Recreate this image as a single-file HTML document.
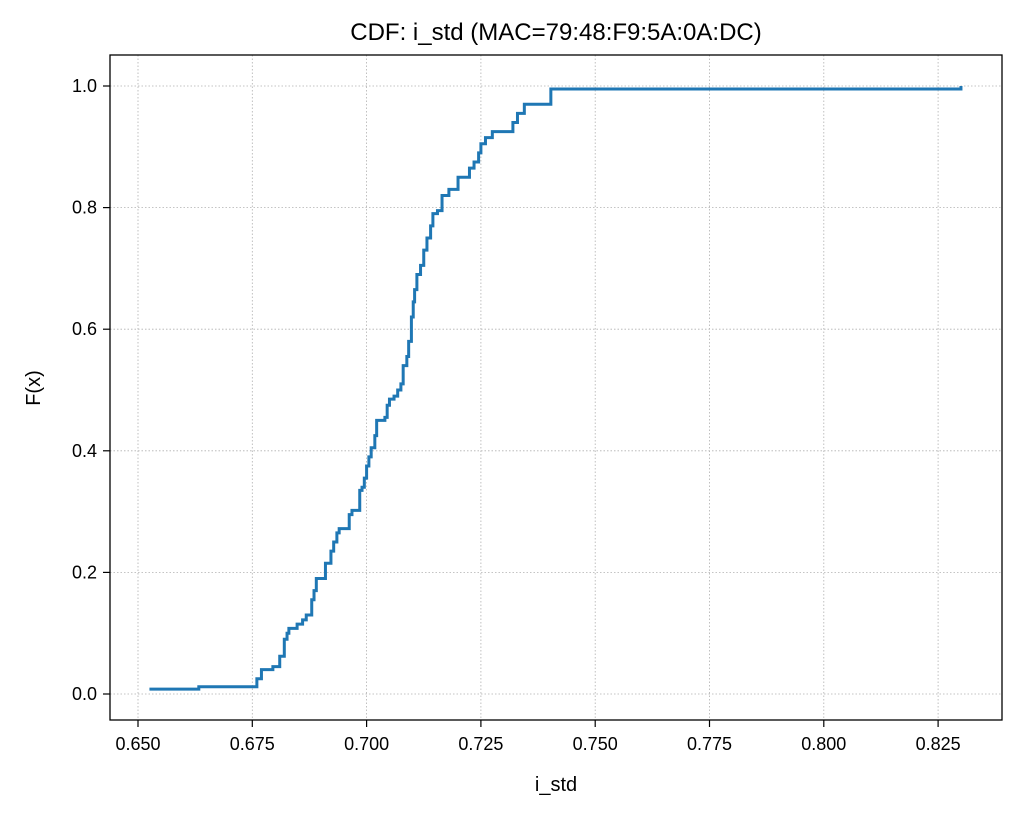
<!DOCTYPE html>
<html><head><meta charset="utf-8"><style>
body{margin:0;background:#fff;}
svg text{font-family:"Liberation Sans","DejaVu Sans",sans-serif;fill:#000;}
</style></head><body>
<svg id="chart" width="1020" height="815">
<rect x="0" y="0" width="1020" height="815" fill="#fff"/>
<g id="grid"></g><g id="ticks"></g>
<path id="line" fill="none" stroke="#1f77b4" stroke-width="3" stroke-linejoin="miter"/>
<rect x="110" y="55" width="892" height="665" fill="none" stroke="#000" stroke-width="1.3"/>
<text x="556" y="40" font-size="24" text-anchor="middle">CDF: i_std (MAC=79:48:F9:5A:0A:DC)</text>
<text x="556" y="791" font-size="20" text-anchor="middle">i_std</text>
<text x="40" y="388" font-size="20" text-anchor="middle" transform="rotate(-90 40 388)">F(x)</text>
</svg>
<script>
const xVals=[0.6525,0.6633,0.6760,0.6770,0.6795,0.6810,0.6820,0.6826,0.6830,0.6848,0.6860,0.6868,0.6880,0.6885,0.6890,0.6910,0.6922,0.6928,0.6935,0.6940,0.6962,0.6968,0.6985,0.6990,0.6995,0.7000,0.7005,0.7010,0.7018,0.7022,0.7040,0.7045,0.7050,0.7060,0.7068,0.7075,0.7080,0.7088,0.7092,0.7098,0.7102,0.7105,0.7110,0.7118,0.7125,0.7132,0.7140,0.7145,0.7155,0.7165,0.7180,0.7200,0.7225,0.7235,0.7245,0.7250,0.7260,0.7275,0.7320,0.7330,0.7345,0.7403,0.8300];
const fVals=[0.008,0.012,0.025,0.040,0.045,0.062,0.090,0.100,0.108,0.115,0.122,0.130,0.155,0.170,0.190,0.215,0.235,0.250,0.265,0.272,0.295,0.302,0.335,0.340,0.355,0.375,0.390,0.405,0.425,0.450,0.455,0.475,0.485,0.490,0.500,0.510,0.540,0.555,0.580,0.620,0.645,0.665,0.690,0.705,0.730,0.750,0.770,0.790,0.795,0.820,0.830,0.850,0.865,0.875,0.890,0.905,0.915,0.925,0.940,0.955,0.970,0.995,1.0];
const xTicks=[0.650,0.675,0.700,0.725,0.750,0.775,0.800,0.825];
const yTicks=[0.0,0.2,0.4,0.6,0.8,1.0];
const sx=v=>138+(v-0.65)/0.025*114.3;
const sy=v=>694-v*608;
const NS='http://www.w3.org/2000/svg';
const grid=document.getElementById('grid'),ticks=document.getElementById('ticks');
function mk(t,a,p){const e=document.createElementNS(NS,t);for(const k in a)e.setAttribute(k,a[k]);p.appendChild(e);return e;}
xTicks.forEach(v=>{const x=sx(v);
 const g=mk('line',{x1:x,x2:x,y1:55,y2:720,stroke:'#b0b0b0','stroke-width':0.8,'stroke-dasharray':'1.5,2'},grid);
 
 
 mk('line',{x1:x,x2:x,y1:720,y2:727,stroke:'#000','stroke-width':1.2},ticks);
 const t=mk('text',{x:x,y:750,'font-size':18,'text-anchor':'middle'},ticks);t.textContent=v.toFixed(3);
 
 });
yTicks.forEach(v=>{const y=sy(v);
 const g=mk('line',{x1:110,x2:1002,y1:y,y2:y,stroke:'#b0b0b0','stroke-width':0.8,'stroke-dasharray':'1.5,2'},grid);
 
 
 mk('line',{x1:103,x2:110,y1:y,y2:y,stroke:'#000','stroke-width':1.2},ticks);
 const t=mk('text',{x:97,y:y+6,'font-size':18,'text-anchor':'end'},ticks);t.textContent=v.toFixed(1);
 
 });
let d='M'+sx(xVals[0])+','+sy(fVals[0]);
for(let i=1;i<xVals.length;i++){d+=' H'+sx(xVals[i])+' V'+sy(fVals[i]);}
document.getElementById('line').setAttribute('d',d);
</script>
</body></html>
